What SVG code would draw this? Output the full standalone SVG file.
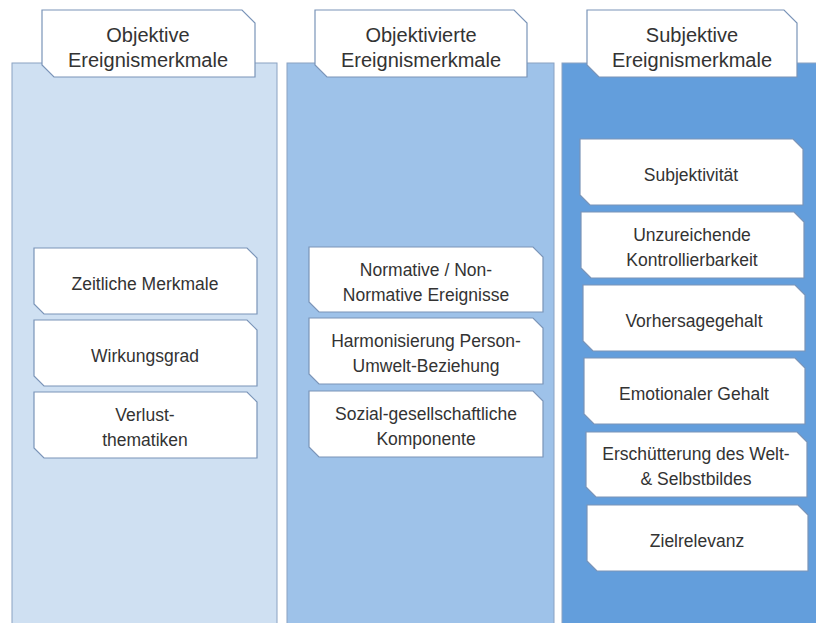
<svg xmlns="http://www.w3.org/2000/svg" width="816" height="623" viewBox="0 0 816 623">
<defs>
<style>
.panel{stroke:#8aa2c2;stroke-width:1}
.p1{fill:#cfe0f2}
.p2{fill:#9ec2e9}
.p3{fill:#639edc}
.box{fill:#ffffff;stroke:#7a94b8;stroke-width:1.2}
.hd{font-family:"Liberation Sans",Arial,sans-serif;font-size:20px;fill:#333333;text-anchor:middle}
.tx{font-family:"Liberation Sans",Arial,sans-serif;font-size:17.5px;fill:#333333;text-anchor:middle}
</style>
</defs>
<rect width="816" height="623" fill="#ffffff"/>
<g id="panels">
<rect class="panel p1" x="12" y="63" width="265" height="570"/>
<rect class="panel p2" x="287" y="63" width="267" height="570"/>
<rect class="panel p3" x="562" y="63" width="270" height="570"/>
</g>
<g id="header1">
<path class="box" d="M42,10 H242 L255,23 V77 H54 L42,65 Z"/>
<text class="hd" x="148" y="42">Objektive</text>
<text class="hd" x="148" y="67">Ereignismerkmale</text>
</g>
<g id="header2">
<path class="box" d="M315,10 H514 L527,23 V77 H327 L315,65 Z"/>
<text class="hd" x="421" y="42">Objektivierte</text>
<text class="hd" x="421" y="67">Ereignismerkmale</text>
</g>
<g id="header3">
<path class="box" d="M587,10 H784 L797,23 V77 H599 L587,65 Z"/>
<text class="hd" x="692" y="42">Subjektive</text>
<text class="hd" x="692" y="67">Ereignismerkmale</text>
</g>
<g id="n-zeitliche">
<path class="box" d="M34,248 H247 L257,258 V314 H44 L34,304 Z"/>
<text class="tx" x="145" y="290">Zeitliche Merkmale</text>
</g>
<g id="n-wirkungsgrad">
<path class="box" d="M34,320 H247 L257,330 V386 H44 L34,376 Z"/>
<text class="tx" x="145" y="362">Wirkungsgrad</text>
</g>
<g id="n-verlust">
<path class="box" d="M34,392 H247 L257,402 V458 H44 L34,448 Z"/>
<text class="tx" x="145" y="421">Verlust-</text>
<text class="tx" x="145" y="446">thematiken</text>
</g>
<g id="n-normative">
<path class="box" d="M309,247 H533 L543,257 V312 H319 L309,302 Z"/>
<text class="tx" x="426" y="276">Normative / Non-</text>
<text class="tx" x="426" y="301">Normative Ereignisse</text>
</g>
<g id="n-harmonisierung">
<path class="box" d="M309,318 H533 L543,328 V384 H319 L309,374 Z"/>
<text class="tx" x="426" y="347">Harmonisierung Person-</text>
<text class="tx" x="426" y="372">Umwelt-Beziehung</text>
</g>
<g id="n-sozial">
<path class="box" d="M309,391 H533 L543,401 V457 H319 L309,447 Z"/>
<text class="tx" x="426" y="420">Sozial-gesellschaftliche</text>
<text class="tx" x="426" y="445">Komponente</text>
</g>
<g id="n-subjektivitaet">
<path class="box" d="M580,139 H793 L803,149 V205 H590 L580,195 Z"/>
<text class="tx" x="691" y="181">Subjektivität</text>
</g>
<g id="n-kontrollierbarkeit">
<path class="box" d="M581,212 H794 L804,222 V278 H591 L581,268 Z"/>
<text class="tx" x="692" y="241">Unzureichende</text>
<text class="tx" x="692" y="266">Kontrollierbarkeit</text>
</g>
<g id="n-vorhersage">
<path class="box" d="M583,285 H795 L805,295 V351 H593 L583,341 Z"/>
<text class="tx" x="694" y="327">Vorhersagegehalt</text>
</g>
<g id="n-emotional">
<path class="box" d="M584,358 H795 L805,368 V424 H594 L584,414 Z"/>
<text class="tx" x="694" y="400">Emotionaler Gehalt</text>
</g>
<g id="n-erschuetterung">
<path class="box" d="M586,432 H797 L807,442 V497 H596 L586,487 Z"/>
<text class="tx" x="696" y="460">Erschütterung des Welt-</text>
<text class="tx" x="696" y="485">&amp; Selbstbildes</text>
</g>
<g id="n-zielrelevanz">
<path class="box" d="M587,505 H798 L808,515 V571 H597 L587,561 Z"/>
<text class="tx" x="697" y="547">Zielrelevanz</text>
</g>
<g id="connectors"/>
</svg>
